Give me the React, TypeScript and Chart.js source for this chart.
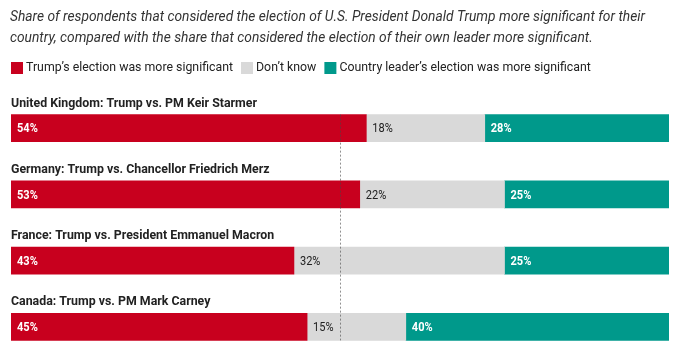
import React, { useEffect, useRef } from "react";
import { Chart, registerables } from "chart.js";

Chart.register(...registerables);

const categories = [
  "United Kingdom: Trump vs. PM Keir Starmer",
  "Germany: Trump vs. Chancellor Friedrich Merz",
  "France: Trump vs. President Emmanuel Macron",
  "Canada: Trump vs. PM Mark Carney",
];
const trumpMore = [54, 53, 43, 45];
const dontKnow = [18, 22, 32, 15];
const leaderMore = [28, 25, 25, 40];
const seriesNames = [
  "Trump\u2019s election was more significant",
  "Don\u2019t know",
  "Country leader\u2019s election was more significant",
];
const titleLines = [
  "Share of respondents that considered the election of U.S. President Donald Trump more significant for their",
  "country, compared with the share that considered the election of their own leader more significant.",
];
const colors = ["#C8001E", "#D9D9D9", "#00998B"];
const labelColors = ["#ffffff", "#222222", "#ffffff"];
const labelWeights = ["bold", "normal", "bold"];
const FONT = "Roboto, 'DejaVu Sans', sans-serif";

// draw text condensed horizontally by factor k (using fillText maxWidth)
function condensedText(ctx: any, t: string, x: number, y: number, k: number) {
  const w = ctx.measureText(t).width * k;
  ctx.fillText(t, x, y, w);
  return w;
}

const decorPlugin = {
  id: "decor",
  afterDraw(chart: any) {
    const ctx = chart.ctx;
    const area = chart.chartArea;
    ctx.save();
    ctx.textAlign = "left";
    // title
    ctx.fillStyle = "#333333";
    ctx.font = `italic 14px ${FONT}`;
    ctx.textBaseline = "middle";
    const kTitle = Math.min(1, 635 / ctx.measureText(titleLines[0]).width);
    titleLines.forEach((t, i) => condensedText(ctx, t, 10, 17 + i * 21, kTitle));
    // legend
    ctx.font = `13px ${FONT}`;
    const kLeg = Math.min(1, 207 / ctx.measureText(seriesNames[0]).width);
    let x = 11;
    const ly = 68;
    seriesNames.forEach((name, i) => {
      ctx.fillStyle = colors[i];
      ctx.fillRect(x, ly - 6, 12, 12);
      ctx.fillStyle = "#222222";
      const w = condensedText(ctx, name, x + 15, ly, kLeg);
      x += 15 + w + 8;
    });
    // category labels & value labels
    const metas = chart.data.datasets.map((_: any, i: number) => chart.getDatasetMeta(i));
    ctx.font = `bold 13px ${FONT}`;
    const kCat = Math.min(1, 246 / ctx.measureText(categories[0]).width);
    categories.forEach((cat, j) => {
      const bar0 = metas[0].data[j];
      const top = bar0.y - bar0.height / 2;
      ctx.fillStyle = "#222222";
      ctx.font = `bold 13px ${FONT}`;
      ctx.textBaseline = "alphabetic";
      condensedText(ctx, cat, area.left, top - 8, kCat);
      metas.forEach((meta: any, i: number) => {
        const el = meta.data[j];
        const v = chart.data.datasets[i].data[j];
        ctx.fillStyle = labelColors[i];
        ctx.font = `${labelWeights[i]} 13px ${FONT}`;
        ctx.textBaseline = "middle";
        condensedText(ctx, `${v}%`, el.base + 6, el.y + 1, 0.85);
      });
    });
    // dotted 50% line
    const first = metas[0].data[0];
    const last = metas[0].data[categories.length - 1];
    const xm = Math.round(chart.scales.x.getPixelForValue(50)) + 0.5;
    ctx.strokeStyle = "rgba(70,70,70,0.6)";
    ctx.lineWidth = 1;
    ctx.setLineDash([2, 2]);
    ctx.beginPath();
    ctx.moveTo(xm, first.y - first.height / 2);
    ctx.lineTo(xm, last.y + last.height / 2);
    ctx.stroke();
    ctx.restore();
  },
};

export default function App() {
  const ref = useRef<HTMLCanvasElement>(null);
  useEffect(() => {
    document.body.style.margin = "0";
    const chart = new Chart(ref.current!, {
      type: "bar",
      data: {
        labels: categories,
        datasets: [trumpMore, dontKnow, leaderMore].map((d, i) => ({
          label: seriesNames[i],
          data: d,
          backgroundColor: colors[i],
          borderWidth: 0,
          barThickness: 27,
        })),
      },
      options: {
        indexAxis: "y",
        animation: false,
        responsive: false,
        maintainAspectRatio: false,
        layout: { padding: { top: 95, bottom: 0, left: 11, right: 14 } },
        plugins: {
          legend: { display: false },
          title: { display: false },
          tooltip: { enabled: false },
        },
        scales: {
          x: { stacked: true, min: 0, max: 100, display: false },
          y: { stacked: true, display: false },
        },
      },
      plugins: [decorPlugin],
    });
    return () => chart.destroy();
  }, []);
  return (
    <div style={{ width: 683, height: 360 }}>
      <canvas ref={ref} width={683} height={360} />
    </div>
  );
}
